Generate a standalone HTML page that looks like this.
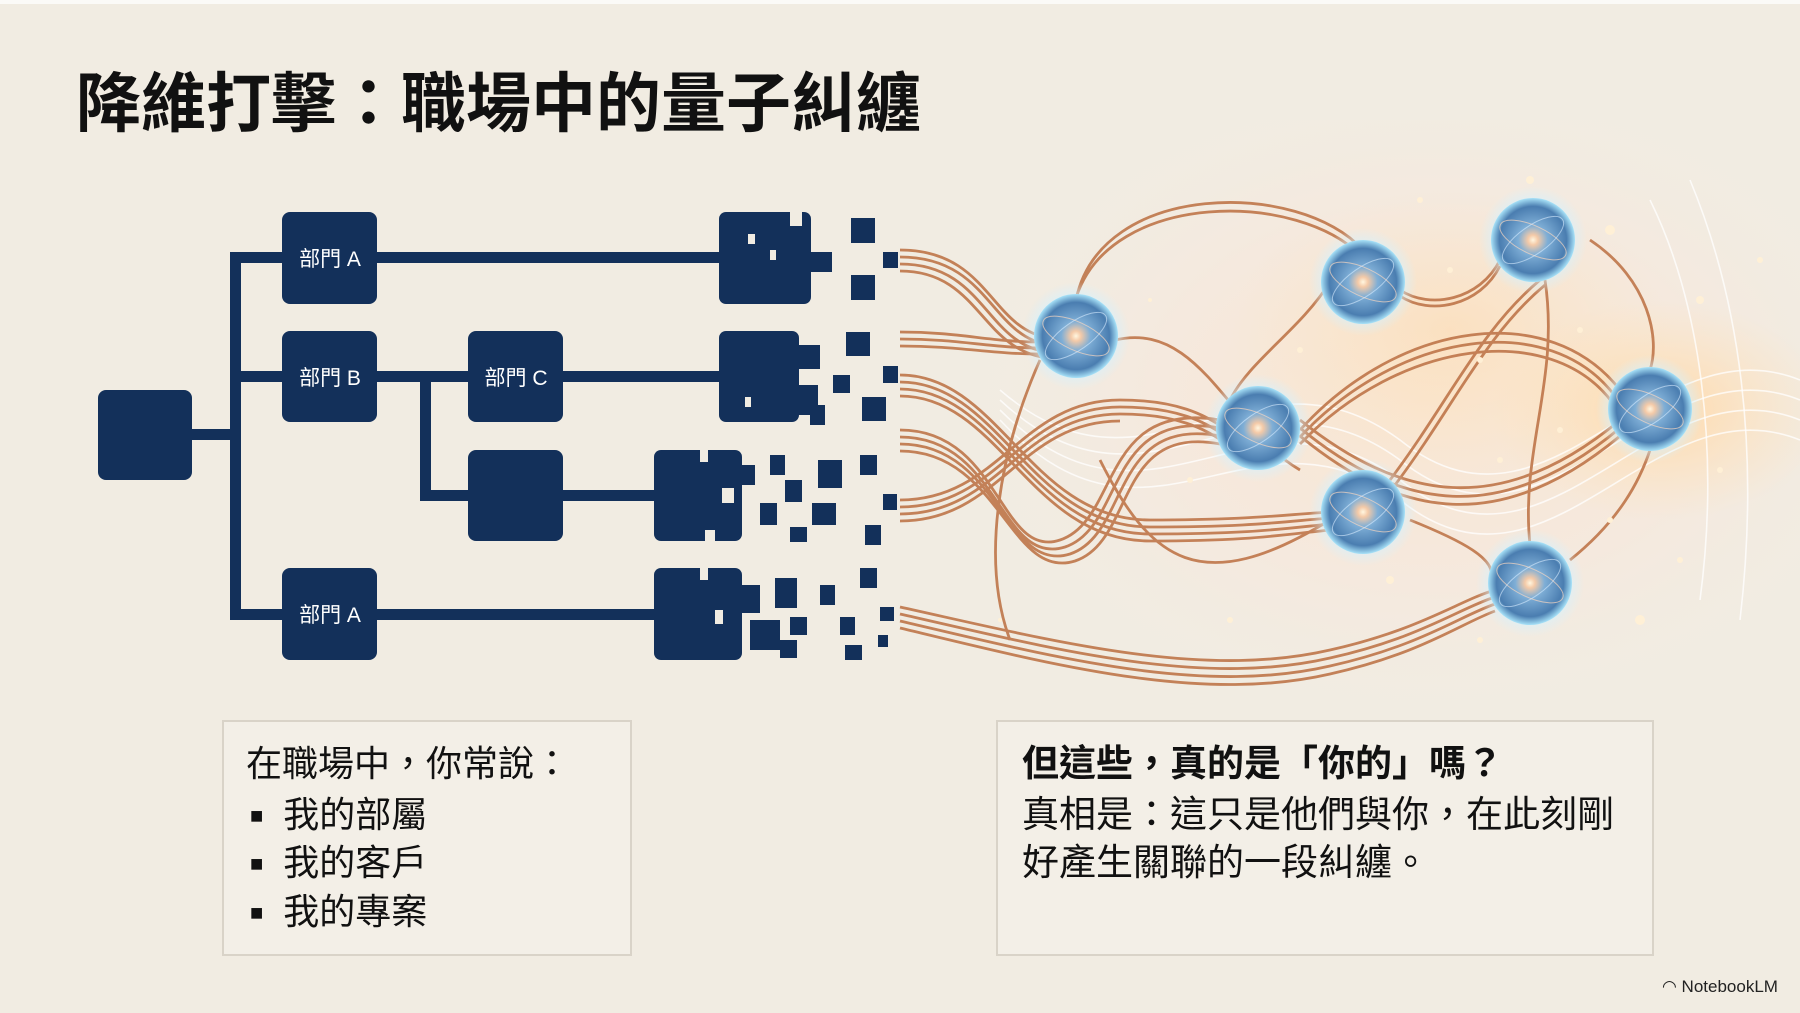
<!DOCTYPE html>
<html><head><meta charset="utf-8">
<style>
html,body{margin:0;padding:0;}
body{width:1800px;height:1013px;overflow:hidden;position:relative;background:#f1ece2;font-family:"Liberation Sans","Noto Sans CJK TC",sans-serif;}
.t{position:absolute;white-space:nowrap;color:#111;}
.box{position:absolute;border:2px solid #d9d3c8;background:#f3efe7;box-sizing:border-box;}
</style></head><body>
<svg width="1800" height="1013" viewBox="0 0 1800 1013" style="position:absolute;left:0;top:0">
<defs>
<radialGradient id="bgg" cx="0.6" cy="0.45" r="0.55">
<stop offset="0" stop-color="#f9e6d2"/><stop offset="0.55" stop-color="#f5e9de"/><stop offset="1" stop-color="#f1ece2" stop-opacity="0"/>
</radialGradient>
<radialGradient id="glow" cx="0.5" cy="0.5" r="0.5">
<stop offset="0" stop-color="#ffd9a8" stop-opacity="0.95"/><stop offset="1" stop-color="#ffe2b8" stop-opacity="0"/>
</radialGradient>
<radialGradient id="orb" cx="0.5" cy="0.5" r="0.5">
<stop offset="0" stop-color="#fff6e0"/><stop offset="0.12" stop-color="#f4caa8"/><stop offset="0.35" stop-color="#7eaed6"/><stop offset="0.8" stop-color="#4a7db0"/><stop offset="1" stop-color="#a8e2f8"/>
</radialGradient>
<radialGradient id="halo" cx="0.5" cy="0.5" r="0.5">
<stop offset="0.6" stop-color="#d4f1ff" stop-opacity="0.9"/><stop offset="1" stop-color="#d4f1ff" stop-opacity="0"/>
</radialGradient>
</defs>
<rect x="0" y="0" width="1800" height="4" fill="#fbfaf7"/>
<rect x="880" y="120" width="920" height="620" fill="url(#bgg)"/>
<ellipse cx="1660" cy="410" rx="170" ry="110" fill="url(#glow)"/>
<ellipse cx="1450" cy="330" rx="220" ry="140" fill="url(#glow)" opacity="0.5"/>
<g fill="none" stroke="#ffffff" stroke-opacity="0.75" stroke-width="1.6">
<path d="M1000,390 C1150,520 1250,330 1400,440 C1550,560 1650,320 1800,380"/>
<path d="M1000,400 C1150,540 1250,350 1400,460 C1550,580 1650,340 1800,400"/>
<path d="M1000,410 C1150,560 1250,370 1400,480 C1550,600 1650,360 1800,420"/>
<path d="M1000,420 C1150,580 1250,390 1400,500 C1550,620 1650,380 1800,440"/>
<path d="M1650,200 C1700,300 1720,450 1700,600"/>
<path d="M1690,180 C1740,300 1760,450 1740,620"/>
</g>
<g fill="#13305a">
<rect x="98" y="390" width="94" height="90" rx="8"/>
<rect x="192" y="429" width="45" height="11"/>
<rect x="230" y="252" width="11" height="368"/>
<rect x="230" y="252" width="60" height="11"/>
<rect x="230" y="371" width="60" height="11"/>
<rect x="230" y="609" width="60" height="11"/>
<rect x="282" y="212" width="95" height="92" rx="8"/>
<rect x="282" y="331" width="95" height="91" rx="8"/>
<rect x="468" y="331" width="95" height="91" rx="8"/>
<rect x="468" y="450" width="95" height="91" rx="8"/>
<rect x="282" y="568" width="95" height="92" rx="8"/>
<rect x="377" y="252" width="350" height="11"/>
<rect x="377" y="371" width="95" height="11"/>
<rect x="420" y="371" width="11" height="130"/>
<rect x="420" y="490" width="50" height="11"/>
<rect x="563" y="371" width="160" height="11"/>
<rect x="563" y="490" width="95" height="11"/>
<rect x="377" y="609" width="280" height="11"/>
<rect x="719" y="212" width="92" height="92" rx="7"/>
<rect x="851" y="218" width="24" height="25"/><rect x="810" y="252" width="22" height="20"/><rect x="851" y="275" width="24" height="25"/><rect x="883" y="252" width="15" height="16"/>
<rect x="719" y="331" width="80" height="91" rx="7"/>
<rect x="795" y="345" width="25" height="24"/><rect x="846" y="332" width="24" height="24"/><rect x="833" y="375" width="17" height="18"/><rect x="790" y="385" width="28" height="30"/><rect x="810" y="405" width="15" height="20"/><rect x="862" y="397" width="24" height="24"/><rect x="883" y="366" width="15" height="17"/>
<rect x="654" y="450" width="88" height="91" rx="7"/>
<rect x="738" y="465" width="17" height="20"/><rect x="770" y="455" width="15" height="20"/><rect x="818" y="460" width="24" height="28"/><rect x="785" y="480" width="17" height="22"/><rect x="860" y="455" width="17" height="20"/><rect x="760" y="503" width="17" height="22"/><rect x="812" y="503" width="24" height="22"/><rect x="790" y="527" width="17" height="15"/><rect x="883" y="494" width="14" height="16"/><rect x="865" y="525" width="16" height="20"/>
<rect x="654" y="568" width="88" height="92" rx="7"/>
<rect x="738" y="585" width="22" height="28"/><rect x="775" y="578" width="22" height="30"/><rect x="820" y="585" width="15" height="20"/><rect x="860" y="568" width="17" height="20"/><rect x="750" y="620" width="30" height="30"/><rect x="790" y="617" width="17" height="18"/><rect x="840" y="617" width="15" height="18"/><rect x="780" y="640" width="17" height="18"/><rect x="845" y="645" width="17" height="15"/><rect x="880" y="607" width="14" height="14"/><rect x="878" y="635" width="10" height="12"/>
</g>
<g fill="#f1ece2"><rect x="790" y="212" width="12" height="14"/><rect x="748" y="234" width="7" height="10"/><rect x="770" y="250" width="6" height="10"/><rect x="745" y="397" width="6" height="10"/><rect x="700" y="450" width="8" height="12"/><rect x="722" y="488" width="12" height="15"/><rect x="705" y="530" width="10" height="12"/><rect x="700" y="568" width="8" height="12"/><rect x="715" y="610" width="8" height="14"/></g>
<g fill="none" stroke="#bf764a" stroke-width="2.8" opacity="0.9">
<g><path d="M900,250 C990,250 990,330 1050,338"/><path d="M900,257 C990,257 990,337 1050,345"/><path d="M900,264 C985,264 985,344 1048,352"/><path d="M900,271 C980,271 980,350 1048,358"/></g>
<g><path d="M900,332 C960,332 990,342 1040,342"/><path d="M900,339 C960,339 990,348 1040,348"/><path d="M900,346 C960,346 990,354 1040,354"/></g>
<g><path d="M900,375 C1000,375 1030,520 1150,520 C1250,520 1280,515 1330,512"/><path d="M900,382 C1000,382 1030,527 1150,527 C1250,527 1280,522 1330,518"/><path d="M900,389 C1000,389 1030,534 1150,534 C1250,534 1280,529 1330,524"/><path d="M900,396 C1000,396 1030,541 1150,541 C1250,541 1280,535 1330,530"/></g>
<g><path d="M900,430 C1000,430 1000,560 1060,540 C1120,520 1100,400 1220,420"/><path d="M900,437 C1000,437 1000,567 1065,547 C1125,527 1105,408 1220,428"/><path d="M900,444 C1000,444 1005,574 1070,554 C1130,534 1110,416 1220,436"/><path d="M900,451 C1000,451 1010,581 1075,561 C1135,541 1115,424 1220,444"/></g>
<g><path d="M900,500 C1000,500 1020,400 1120,400 C1200,400 1220,430 1230,430"/><path d="M900,507 C1000,507 1020,407 1120,407 C1200,407 1220,437 1230,437"/><path d="M900,514 C1000,514 1020,414 1120,414 C1200,414 1220,444 1230,444"/><path d="M900,521 C1000,521 1020,421 1120,421"/></g>
<g><path d="M900,607 C1050,640 1200,680 1330,650 C1420,630 1460,600 1495,590"/><path d="M900,614 C1050,648 1200,688 1330,658 C1420,638 1460,608 1495,597"/><path d="M900,621 C1050,656 1200,696 1330,666 C1420,646 1460,616 1495,604"/><path d="M900,628 C1050,664 1200,704 1330,674 C1420,654 1460,624 1495,611"/></g>
<path d="M1076,300 C1100,180 1300,180 1363,250"/><path d="M1076,298 C1110,190 1300,190 1363,258"/>
<path d="M1115,340 C1200,320 1230,430 1300,470"/>
<path d="M1400,290 C1430,310 1480,300 1500,260"/><path d="M1400,296 C1430,316 1480,306 1500,266"/>
<path d="M1300,430 C1400,320 1550,300 1620,390"/><path d="M1300,437 C1400,330 1550,310 1615,396"/><path d="M1300,444 C1400,340 1550,320 1612,402"/>
<path d="M1300,420 C1400,500 1500,520 1620,420"/><path d="M1300,428 C1400,510 1500,528 1620,428"/><path d="M1300,436 C1400,518 1500,536 1620,436"/>
<path d="M1390,480 C1450,400 1480,330 1540,280"/><path d="M1395,485 C1455,405 1485,335 1545,285"/>
<path d="M1545,280 C1560,380 1520,450 1530,545"/>
<path d="M1570,560 C1620,520 1640,480 1650,450"/>
<path d="M1410,520 C1460,540 1500,560 1490,580"/>
<path d="M1330,282 C1300,330 1250,360 1230,400"/>
<path d="M1040,360 C1000,450 980,560 1010,640"/>
<path d="M1100,460 C1150,560 1200,600 1330,520"/>
<path d="M1590,240 C1650,280 1660,340 1650,370"/>
</g>
<g fill="#fff0d6">
<circle cx="1530" cy="180" r="4"/><circle cx="1610" cy="230" r="5"/><circle cx="1450" cy="270" r="3"/><circle cx="1580" cy="330" r="3"/><circle cx="1700" cy="300" r="4"/><circle cx="1720" cy="470" r="3"/><circle cx="1610" cy="520" r="3"/><circle cx="1640" cy="620" r="5"/><circle cx="1480" cy="640" r="3"/><circle cx="1190" cy="480" r="3"/><circle cx="1230" cy="620" r="3"/><circle cx="1480" cy="360" r="3"/><circle cx="1390" cy="580" r="4"/><circle cx="1560" cy="430" r="3"/><circle cx="1680" cy="560" r="3"/><circle cx="1420" cy="200" r="3"/><circle cx="1760" cy="260" r="3"/><circle cx="1000" cy="620" r="2"/><circle cx="1300" cy="350" r="3"/><circle cx="1150" cy="300" r="2"/><circle cx="1500" cy="460" r="3"/>
</g>
<g>
<g transform="translate(1076,336)"><circle r="54" fill="url(#halo)"/><circle r="42" fill="url(#orb)"/><ellipse rx="36" ry="14" fill="none" stroke="#f6d6c0" stroke-opacity="0.7" transform="rotate(25)"/><ellipse rx="36" ry="14" fill="none" stroke="#d8ecff" stroke-opacity="0.6" transform="rotate(-35)"/></g>
<g transform="translate(1363,282)"><circle r="54" fill="url(#halo)"/><circle r="42" fill="url(#orb)"/><ellipse rx="36" ry="14" fill="none" stroke="#f6d6c0" stroke-opacity="0.7" transform="rotate(25)"/><ellipse rx="36" ry="14" fill="none" stroke="#d8ecff" stroke-opacity="0.6" transform="rotate(-35)"/></g>
<g transform="translate(1533,240)"><circle r="54" fill="url(#halo)"/><circle r="42" fill="url(#orb)"/><ellipse rx="36" ry="14" fill="none" stroke="#f6d6c0" stroke-opacity="0.7" transform="rotate(25)"/><ellipse rx="36" ry="14" fill="none" stroke="#d8ecff" stroke-opacity="0.6" transform="rotate(-35)"/></g>
<g transform="translate(1258,428)"><circle r="54" fill="url(#halo)"/><circle r="42" fill="url(#orb)"/><ellipse rx="36" ry="14" fill="none" stroke="#f6d6c0" stroke-opacity="0.7" transform="rotate(25)"/><ellipse rx="36" ry="14" fill="none" stroke="#d8ecff" stroke-opacity="0.6" transform="rotate(-35)"/></g>
<g transform="translate(1650,409)"><circle r="54" fill="url(#halo)"/><circle r="42" fill="url(#orb)"/><ellipse rx="36" ry="14" fill="none" stroke="#f6d6c0" stroke-opacity="0.7" transform="rotate(25)"/><ellipse rx="36" ry="14" fill="none" stroke="#d8ecff" stroke-opacity="0.6" transform="rotate(-35)"/></g>
<g transform="translate(1363,512)"><circle r="54" fill="url(#halo)"/><circle r="42" fill="url(#orb)"/><ellipse rx="36" ry="14" fill="none" stroke="#f6d6c0" stroke-opacity="0.7" transform="rotate(25)"/><ellipse rx="36" ry="14" fill="none" stroke="#d8ecff" stroke-opacity="0.6" transform="rotate(-35)"/></g>
<g transform="translate(1530,583)"><circle r="54" fill="url(#halo)"/><circle r="42" fill="url(#orb)"/><ellipse rx="36" ry="14" fill="none" stroke="#f6d6c0" stroke-opacity="0.7" transform="rotate(25)"/><ellipse rx="36" ry="14" fill="none" stroke="#d8ecff" stroke-opacity="0.6" transform="rotate(-35)"/></g>
</g>
<g fill="#ffffff" font-family="Liberation Sans, Noto Sans CJK TC, sans-serif" font-size="21" text-anchor="middle">
<text x="330" y="266">部門 A</text><text x="330" y="385">部門 B</text><text x="516" y="385">部門 C</text><text x="330" y="622">部門 A</text>
</g>
</svg>
<div class="t" style="left:76px;top:64px;font-size:65px;font-weight:bold;line-height:80px;color:#111;">降維打擊：職場中的量子糾纏</div>
<div class="box" style="left:222px;top:720px;width:410px;height:236px;"></div>
<div class="box" style="left:996px;top:720px;width:658px;height:236px;"></div>
<div class="t" style="left:246px;top:740px;font-size:36px;line-height:48px;">在職場中，你常說：</div>
<div class="t" style="left:250px;top:791px;font-size:36px;line-height:48px;"><span style="font-size:22px;vertical-align:4px;">■</span>&nbsp; 我的部屬</div>
<div class="t" style="left:250px;top:839px;font-size:36px;line-height:48px;"><span style="font-size:22px;vertical-align:4px;">■</span>&nbsp; 我的客戶</div>
<div class="t" style="left:250px;top:888px;font-size:36px;line-height:48px;"><span style="font-size:22px;vertical-align:4px;">■</span>&nbsp; 我的專案</div>
<div class="t" style="left:1022px;top:740px;font-size:37px;line-height:48px;font-weight:bold;">但這些，真的是「你的」嗎？</div>
<div class="t" style="left:1022px;top:791px;font-size:37px;line-height:48px;">真相是：這只是他們與你，在此刻剛</div>
<div class="t" style="left:1022px;top:839px;font-size:37px;line-height:48px;">好產生關聯的一段糾纏。</div>
<div class="t" style="left:1662px;top:977px;font-size:17px;line-height:20px;color:#222;">◠ NotebookLM</div>
</body></html>
